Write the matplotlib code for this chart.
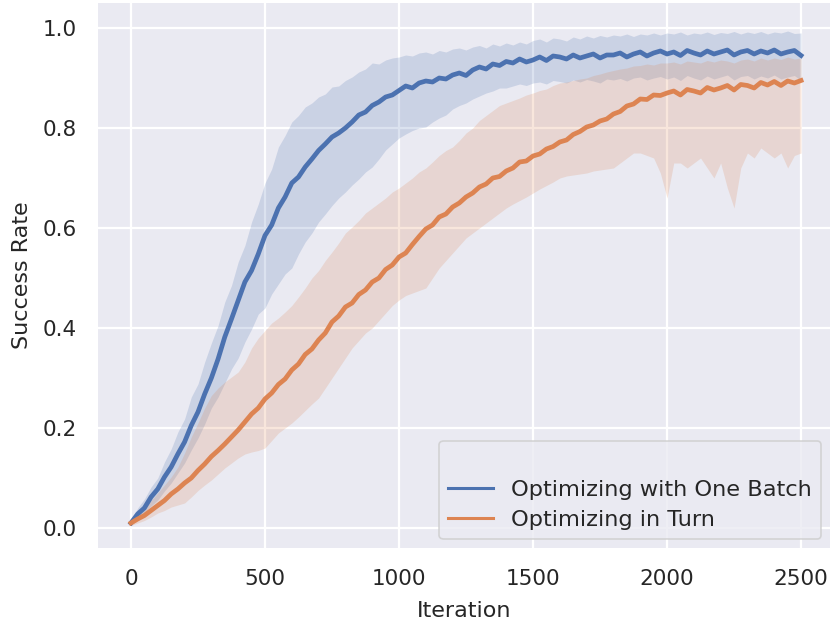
import numpy as np
import matplotlib
matplotlib.use("Agg")
import matplotlib.pyplot as plt
from matplotlib.lines import Line2D

# iterations 0..2500, one reading every 25 steps
iterations = np.arange(0, 2501, 25)

batch_mean = [
    0.010, 0.028, 0.040, 0.062, 0.078, 0.102, 0.122, 0.148, 0.172, 0.205,
    0.232, 0.268, 0.300, 0.338, 0.382, 0.418, 0.455, 0.492, 0.515, 0.548,
    0.585, 0.606, 0.640, 0.662, 0.690, 0.702, 0.722, 0.738, 0.755, 0.768,
    0.782, 0.790, 0.800, 0.812, 0.826, 0.832, 0.845, 0.852, 0.862, 0.866,
    0.875, 0.884, 0.880, 0.890, 0.894, 0.892, 0.900, 0.898, 0.906, 0.910,
    0.905, 0.916, 0.922, 0.918, 0.928, 0.925, 0.933, 0.930, 0.938, 0.932,
    0.936, 0.942, 0.935, 0.944, 0.942, 0.938, 0.946, 0.940, 0.944, 0.948,
    0.940, 0.946, 0.946, 0.950, 0.942, 0.948, 0.952, 0.944, 0.950, 0.954,
    0.948, 0.952, 0.945, 0.955, 0.950, 0.946, 0.954, 0.948, 0.952, 0.956,
    0.946, 0.952, 0.955, 0.948, 0.954, 0.950, 0.956, 0.948, 0.952, 0.955,
    0.945,
]
batch_upper = [
    0.015, 0.040, 0.058, 0.082, 0.100, 0.132, 0.158, 0.192, 0.218, 0.262,
    0.288, 0.332, 0.370, 0.405, 0.452, 0.485, 0.532, 0.565, 0.612, 0.648,
    0.690, 0.718, 0.762, 0.785, 0.812, 0.825, 0.842, 0.850, 0.862, 0.868,
    0.882, 0.884, 0.895, 0.902, 0.912, 0.918, 0.930, 0.928, 0.936, 0.940,
    0.942, 0.946, 0.944, 0.950, 0.952, 0.948, 0.955, 0.952, 0.958, 0.960,
    0.956, 0.962, 0.965, 0.960, 0.968, 0.964, 0.970, 0.966, 0.972, 0.968,
    0.975, 0.978, 0.972, 0.980, 0.978, 0.974, 0.982, 0.978, 0.984, 0.980,
    0.985, 0.982, 0.986, 0.984, 0.988, 0.983, 0.988, 0.986, 0.990, 0.986,
    0.990, 0.988, 0.992, 0.986, 0.990, 0.988, 0.992, 0.987, 0.991, 0.989,
    0.993, 0.988, 0.992, 0.989, 0.993, 0.988, 0.992, 0.990, 0.994, 0.989,
    0.990,
]
batch_lower = [
    0.005, 0.018, 0.030, 0.044, 0.056, 0.074, 0.090, 0.110, 0.130, 0.156,
    0.180, 0.208, 0.240, 0.262, 0.290, 0.318, 0.340, 0.372, 0.398, 0.428,
    0.440, 0.468, 0.488, 0.508, 0.520, 0.548, 0.572, 0.590, 0.612, 0.628,
    0.645, 0.660, 0.672, 0.686, 0.698, 0.712, 0.722, 0.738, 0.756, 0.768,
    0.780, 0.788, 0.795, 0.800, 0.802, 0.812, 0.820, 0.826, 0.838, 0.845,
    0.850, 0.858, 0.864, 0.870, 0.874, 0.880, 0.880, 0.884, 0.888, 0.885,
    0.890, 0.892, 0.888, 0.895, 0.893, 0.890, 0.896, 0.892, 0.897, 0.894,
    0.890, 0.898, 0.896, 0.899, 0.894, 0.900, 0.902, 0.896, 0.900, 0.903,
    0.898, 0.902, 0.895, 0.905, 0.900, 0.896, 0.904, 0.898, 0.902, 0.906,
    0.896, 0.903, 0.905, 0.898, 0.904, 0.900, 0.906, 0.898, 0.902, 0.905,
    0.895,
]

turn_mean = [
    0.010, 0.018, 0.025, 0.035, 0.045, 0.055, 0.068, 0.078, 0.090, 0.100,
    0.115, 0.128, 0.143, 0.155, 0.168, 0.182, 0.196, 0.212, 0.228, 0.240,
    0.258, 0.270, 0.287, 0.298, 0.316, 0.328, 0.347, 0.358, 0.376, 0.390,
    0.412, 0.424, 0.442, 0.450, 0.467, 0.476, 0.492, 0.500, 0.517, 0.526,
    0.542, 0.550, 0.567, 0.583, 0.598, 0.606, 0.622, 0.628, 0.642, 0.650,
    0.662, 0.670, 0.682, 0.688, 0.700, 0.703, 0.714, 0.720, 0.732, 0.734,
    0.744, 0.748, 0.758, 0.763, 0.772, 0.776, 0.787, 0.793, 0.802, 0.806,
    0.814, 0.818, 0.828, 0.833, 0.844, 0.848, 0.858, 0.857, 0.866, 0.865,
    0.870, 0.874, 0.866, 0.877, 0.874, 0.870, 0.881, 0.876, 0.880, 0.885,
    0.876, 0.887, 0.885, 0.880, 0.891, 0.886, 0.893, 0.885, 0.894, 0.890,
    0.895,
]
turn_upper = [
    0.015, 0.028, 0.040, 0.055, 0.070, 0.086, 0.102, 0.122, 0.150, 0.182,
    0.210, 0.240, 0.265, 0.280, 0.292, 0.302, 0.312, 0.332, 0.360, 0.380,
    0.395, 0.410, 0.420, 0.432, 0.445, 0.462, 0.480, 0.500, 0.515, 0.535,
    0.552, 0.570, 0.590, 0.602, 0.615, 0.630, 0.640, 0.650, 0.660, 0.672,
    0.680, 0.690, 0.700, 0.712, 0.720, 0.732, 0.745, 0.755, 0.762, 0.775,
    0.790, 0.800, 0.815, 0.825, 0.835, 0.845, 0.850, 0.855, 0.860, 0.866,
    0.870, 0.875, 0.878, 0.885, 0.890, 0.892, 0.895, 0.898, 0.900, 0.905,
    0.908, 0.912, 0.915, 0.918, 0.920, 0.924, 0.925, 0.928, 0.926, 0.930,
    0.930, 0.932, 0.928, 0.934, 0.932, 0.930, 0.935, 0.932, 0.936, 0.934,
    0.930, 0.936, 0.938, 0.934, 0.940, 0.936, 0.940, 0.937, 0.942, 0.938,
    0.940,
]
turn_lower = [
    0.005, 0.010, 0.015, 0.022, 0.030, 0.035, 0.042, 0.046, 0.050, 0.062,
    0.075, 0.086, 0.096, 0.108, 0.120, 0.130, 0.140, 0.148, 0.152, 0.155,
    0.160, 0.175, 0.190, 0.200, 0.210, 0.222, 0.235, 0.248, 0.260, 0.280,
    0.300, 0.320, 0.340, 0.360, 0.375, 0.390, 0.400, 0.415, 0.430, 0.445,
    0.456, 0.465, 0.470, 0.475, 0.480, 0.500, 0.520, 0.535, 0.550, 0.565,
    0.580, 0.590, 0.600, 0.610, 0.620, 0.630, 0.640, 0.648, 0.655, 0.662,
    0.670, 0.678, 0.685, 0.692, 0.700, 0.704, 0.706, 0.708, 0.710, 0.714,
    0.716, 0.718, 0.720, 0.730, 0.740, 0.750, 0.750, 0.745, 0.740, 0.710,
    0.660, 0.730, 0.730, 0.720, 0.730, 0.740, 0.720, 0.700, 0.730, 0.680,
    0.640, 0.720, 0.750, 0.740, 0.760, 0.750, 0.740, 0.750, 0.720, 0.745,
    0.750,
]

labels = ["Optimizing with One Batch", "Optimizing in Turn"]
colors = ["#4C72B0", "#DD8452"]

plt.rcParams["font.family"] = "DejaVu Sans"
plt.rcParams["text.color"] = "#262626"

fig = plt.figure(figsize=(8.3, 6.25), dpi=100)
ax = fig.add_axes([98 / 830, 77 / 625, 732 / 830, 545 / 625])
ax.set_facecolor("#EAEAF2")
for s in ax.spines.values():
    s.set_visible(False)
ax.grid(True, color="white", linewidth=1.6)
ax.set_axisbelow(True)

series = [
    (batch_mean, batch_lower, batch_upper),
    (turn_mean, turn_lower, turn_upper),
]
for (m, lo, hi), c in zip(series, colors):
    ax.fill_between(iterations, lo, hi, color=c, alpha=0.2, linewidth=0)
for (m, lo, hi), c in zip(series, colors):
    ax.plot(iterations, m, color=c, linewidth=3.4)

ax.set_xlim(-123, 2608)
ax.set_ylim(-0.04, 1.05)
ax.set_xticks([0, 500, 1000, 1500, 2000, 2500])
ax.set_yticks([0.0, 0.2, 0.4, 0.6, 0.8, 1.0])
ax.tick_params(axis="both", length=0, pad=15, labelsize=15.5, labelcolor="#262626")
ax.set_xlabel("Iteration", fontsize=16, color="#262626", labelpad=9)
ax.set_ylabel("Success Rate", fontsize=16, color="#262626", labelpad=8)

handles = [Line2D([], [], alpha=0)] + [Line2D([], [], color=c, linewidth=2.2) for c in colors]
leg = ax.legend(handles, [" "] + labels, loc="lower right", fontsize=16.2,
                frameon=True, facecolor="#EAEAF2", edgecolor="#CCCCCC",
                framealpha=0.8, borderaxespad=0.4, labelspacing=0.45)
leg.get_frame().set_linewidth(1.2)

fig.savefig("out.png", dpi=100)
